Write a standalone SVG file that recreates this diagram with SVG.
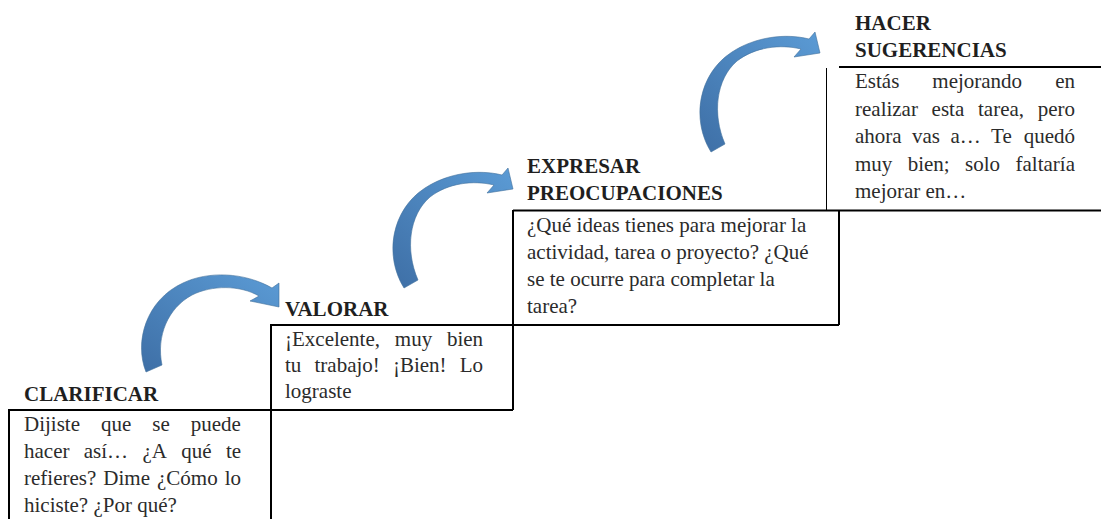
<svg xmlns="http://www.w3.org/2000/svg" width="1101" height="519" viewBox="0 0 1101 519">
<style>
.h{font-family:"Liberation Serif","Times New Roman",serif;font-weight:bold;font-size:21px;fill:#1f1f1f}
.b{font-family:"Liberation Serif","Times New Roman",serif;font-size:21px;fill:#2b2b2b}
.ln{stroke:#000;stroke-width:2;fill:none}
.arr{fill:url(#ag);stroke:#41719c;stroke-width:0.6}
</style>
<defs>
<linearGradient id="ag" x1="1" y1="0" x2="0" y2="1">
<stop offset="0" stop-color="#5b9bd5"/>
<stop offset="1" stop-color="#3e6fa6"/>
</linearGradient>
<path id="a2" d="M404,288 C384,256 391,210 425,188 C448,173 478,169 502,175 L508,168 L513,189 L487,193 L494,185 C473,180 448,183 430,197 C409,215 405,250 418,280 Z"/>
</defs>
<g id="frame">
<path class="ln" d="M8,410 H513 M9,409 V519 M271,324 V519 M271,325 H839 M513,210 V410 M513,210.5 H1101 M839,210 V325 M839,67 H1101"/>
<path d="M826.5,68 V210" stroke="#000" stroke-width="1"/>
</g>
<g id="connectors">
<path class="arr" d="M146,372 C134,342 146,300 183,283 C208,271 244,272 272,288 L279,283 L279,307 L250,301 L259,296 C240,285 212,285 192,295 C168,308 156,336 162,365 Z"/>
<use href="#a2" class="arr"/>
<use href="#a2" class="arr" transform="translate(307,-136)"/>
</g>
<g id="clarificar">
<text class="h" x="24" y="401">CLARIFICAR</text>
<text class="b" y="431"><tspan x="24">Dijiste</tspan><tspan x="101">que</tspan><tspan x="152.3">se</tspan><tspan x="190.8">puede</tspan></text>
<text class="b" y="458"><tspan x="24">hacer</tspan><tspan x="83.8">así…</tspan><tspan x="142.4">¿A</tspan><tspan x="181.2">qué</tspan><tspan x="225.9">te</tspan></text>
<text class="b" y="485"><tspan x="24">refieres?</tspan><tspan x="103.3">Dime</tspan><tspan x="157">¿Cómo</tspan><tspan x="224.7">lo</tspan></text>
<text class="b" x="24" y="512">hiciste? ¿Por qué?</text>
</g>
<g id="valorar">
<text class="h" x="285" y="316">VALORAR</text>
<text class="b" y="346"><tspan x="285">¡Excelente,</tspan><tspan x="394.8">muy</tspan><tspan x="446.9">bien</tspan></text>
<text class="b" y="372"><tspan x="285">tu</tspan><tspan x="314.5">trabajo!</tspan><tspan x="392.9">¡Bien!</tspan><tspan x="459.7">Lo</tspan></text>
<text class="b" x="285" y="398">lograste</text>
</g>
<g id="expresar">
<text class="h" x="527" y="173">EXPRESAR</text>
<text class="h" x="527" y="200">PREOCUPACIONES</text>
<text class="b" x="527" y="232">¿Qué ideas tienes para mejorar la</text>
<text class="b" x="527" y="259">actividad, tarea o proyecto? ¿Qué</text>
<text class="b" x="527" y="286">se te ocurre para completar la</text>
<text class="b" x="527" y="313">tarea?</text>
</g>
<g id="hacer">
<text class="h" x="855" y="30">HACER</text>
<text class="h" x="855" y="57">SUGERENCIAS</text>
<text class="b" y="88"><tspan x="855">Estás</tspan><tspan x="932.3">mejorando</tspan><tspan x="1055.2">en</tspan></text>
<text class="b" y="115.5"><tspan x="855">realizar</tspan><tspan x="931.6">esta</tspan><tspan x="978">tarea,</tspan><tspan x="1037.7">pero</tspan></text>
<text class="b" y="143"><tspan x="855">ahora</tspan><tspan x="912">vas</tspan><tspan x="950.4">a…</tspan><tspan x="991.1">Te</tspan><tspan x="1023.7">quedó</tspan></text>
<text class="b" y="170.5"><tspan x="855">muy</tspan><tspan x="907.7">bien;</tspan><tspan x="965.1">solo</tspan><tspan x="1015.5">faltaría</tspan></text>
<text class="b" x="855" y="198">mejorar en…</text>
</g>
</svg>
